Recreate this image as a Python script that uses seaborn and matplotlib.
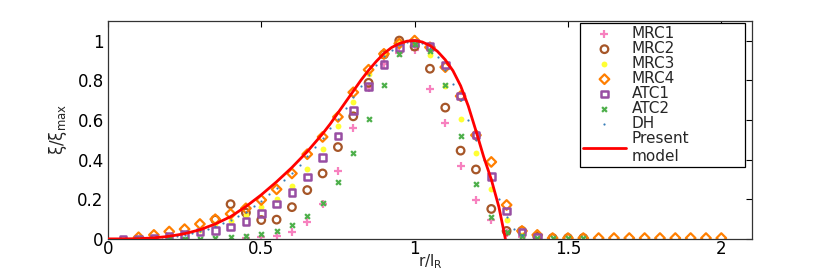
import matplotlib
matplotlib.use('Agg')
import matplotlib.pyplot as plt
import seaborn as sns

sns.set_theme(style="white")
plt.rcParams['font.family'] = ['DejaVu Sans']
plt.rcParams['mathtext.default'] = 'regular'

# MRC1
mrc1_r = [0.45, 0.5, 0.55, 0.6, 0.65, 0.7, 0.75, 0.8, 0.85, 0.9, 0.95, 1.0,
          1.05, 1.1, 1.15, 1.2, 1.25, 1.3, 1.35]
mrc1_y = [0.003, 0.008, 0.012, 0.033, 0.083, 0.175, 0.342, 0.558, 0.76, 0.88, 0.935, 0.95,
          0.754, 0.586, 0.368, 0.196, 0.097, 0.03, 0.008]

# MRC2
mrc2_r = [0.35, 0.4, 0.45, 0.5, 0.55, 0.6, 0.65, 0.7, 0.75, 0.8, 0.85, 0.9, 0.95,
          1.0, 1.05, 1.1, 1.15, 1.2, 1.25, 1.3, 1.35, 1.4, 1.45, 1.5, 1.55]
mrc2_y = [0.097, 0.175, 0.132, 0.095, 0.097, 0.16, 0.246, 0.33, 0.463, 0.618, 0.787, 0.93, 1.0,
          0.97, 0.858, 0.662, 0.445, 0.35, 0.151, 0.04, 0.04, 0.012, 0.004, 0.004, 0.004]

# MRC3
mrc3_r = [0.3, 0.35, 0.4, 0.45, 0.5, 0.55, 0.6, 0.65, 0.7, 0.75, 0.8, 0.85, 0.9,
          0.95, 1.0, 1.05, 1.1, 1.15, 1.2, 1.25, 1.3, 1.35]
mrc3_y = [0.045, 0.075, 0.092, 0.12, 0.159, 0.2, 0.267, 0.352, 0.452, 0.568, 0.69, 0.829, 0.925,
          0.986, 0.985, 0.927, 0.77, 0.605, 0.434, 0.25, 0.095, 0.02]

# MRC4
mrc4_r = [0.1, 0.15, 0.2, 0.25, 0.3, 0.35, 0.4, 0.45, 0.5, 0.55, 0.6, 0.65, 0.7, 0.75,
          0.8, 0.85, 0.9, 0.95, 1.0, 1.05, 1.1, 1.15, 1.2, 1.25, 1.3, 1.35, 1.4,
          1.45, 1.5, 1.55, 1.6, 1.65, 1.7, 1.75, 1.8, 1.85, 1.9, 1.95, 2.0]
mrc4_y = [0.008, 0.02, 0.037, 0.049, 0.075, 0.099, 0.126, 0.154, 0.196, 0.25, 0.33, 0.427, 0.514, 0.615,
          0.739, 0.853, 0.933, 0.985, 1.0, 0.966, 0.866, 0.72, 0.523, 0.388, 0.171, 0.04, 0.02,
          0.004, 0.004, 0.004, 0.004, 0.004, 0.004, 0.004, 0.004, 0.004, 0.004, 0.004, 0.004]

# ATC1
atc1_r = [0.05, 0.1, 0.15, 0.2, 0.25, 0.3, 0.35, 0.4, 0.45, 0.5, 0.55, 0.6, 0.65, 0.7,
          0.75, 0.8, 0.85, 0.9, 0.95, 1.0, 1.05, 1.1, 1.15, 1.2, 1.25, 1.3, 1.35, 1.4]
atc1_y = [0.0, 0.0, 0.004, 0.013, 0.022, 0.035, 0.042, 0.059, 0.088, 0.127, 0.175, 0.235, 0.313, 0.41,
          0.519, 0.648, 0.769, 0.879, 0.966, 0.988, 0.971, 0.878, 0.72, 0.523, 0.315, 0.141, 0.034, 0.008]

# ATC2
atc2_r = [0.1, 0.15, 0.2, 0.25, 0.3, 0.35, 0.4, 0.45, 0.5, 0.55, 0.6, 0.65, 0.7, 0.75,
          0.8, 0.85, 0.9, 0.95, 1.0, 1.05, 1.1, 1.15, 1.2, 1.25, 1.3, 1.35, 1.4,
          1.45, 1.5, 1.55]
atc2_y = [0.0, 0.0, 0.0, 0.0, 0.0, 0.002, 0.008, 0.012, 0.026, 0.04, 0.072, 0.117, 0.179, 0.288,
          0.434, 0.603, 0.778, 0.933, 0.983, 0.948, 0.777, 0.519, 0.276, 0.112, 0.037, 0.012, 0.004,
          0.004, 0.004, 0.004]

# DH
dh_r = [0.1, 0.125, 0.15, 0.175, 0.2, 0.225, 0.25, 0.275, 0.3, 0.325, 0.35, 0.375, 0.4,
        0.425, 0.45, 0.475, 0.5, 0.525, 0.55, 0.575, 0.6, 0.625, 0.65, 0.675, 0.7,
        0.725, 0.75, 0.775, 0.8, 0.825, 0.85, 0.875, 0.9, 0.925, 0.95, 0.975, 1.0,
        1.025, 1.05, 1.075, 1.1, 1.125, 1.15, 1.175, 1.2, 1.225, 1.25, 1.275, 1.3,
        1.325, 1.35]
dh_y = [0.0, 0.002, 0.004, 0.007, 0.011, 0.016, 0.022, 0.03, 0.039, 0.05, 0.063, 0.078, 0.095,
        0.115, 0.138, 0.164, 0.193, 0.224, 0.258, 0.295, 0.334, 0.375, 0.418, 0.463, 0.51,
        0.558, 0.607, 0.66, 0.715, 0.77, 0.825, 0.875, 0.92, 0.955, 0.98, 0.995, 1.0,
        0.99, 0.965, 0.915, 0.85, 0.78, 0.7, 0.6, 0.5, 0.4, 0.3, 0.2, 0.11,
        0.05, 0.02]

# Present model
model_r = [0.0, 0.05, 0.1, 0.15, 0.2, 0.25, 0.3, 0.35, 0.4, 0.45, 0.5, 0.55, 0.6, 0.65,
           0.7, 0.725, 0.75, 0.775, 0.8, 0.825, 0.85, 0.875, 0.9, 0.925, 0.95, 0.975, 1.0,
           1.025, 1.05, 1.075, 1.1, 1.125, 1.15, 1.175, 1.2, 1.225, 1.25, 1.275, 1.296]
model_y = [0.0, 0.0, 0.001, 0.005, 0.013, 0.026, 0.046, 0.075, 0.112, 0.163, 0.222, 0.288, 0.36, 0.44,
           0.53, 0.58, 0.635, 0.69, 0.745, 0.8, 0.85, 0.895, 0.935, 0.965, 0.985, 0.997, 1.0,
           0.993, 0.975, 0.945, 0.903, 0.848, 0.772, 0.67, 0.545, 0.415, 0.3, 0.16, 0.0]

pal = sns.color_palette("Set1")
red, blue, green, purple, orange, yellow, brown, pink = pal[:8]

fig = plt.figure(figsize=(8.3, 2.73), dpi=100)
ax = fig.add_axes([0.130, 0.125, 0.776, 0.799])

sns.scatterplot(x=mrc1_r, y=mrc1_y, marker='+', color=pink, s=34, linewidth=1.6, label='MRC1', ax=ax)
sns.scatterplot(x=mrc2_r, y=mrc2_y, marker='o', facecolor='none', edgecolor=brown, s=30, linewidth=1.6,
                label='MRC2', ax=ax)
sns.scatterplot(x=mrc3_r, y=mrc3_y, marker='o', color=yellow, edgecolor=yellow, s=18, linewidth=0,
                label='MRC3', ax=ax)
sns.scatterplot(x=mrc4_r, y=mrc4_y, marker='D', facecolor='none', edgecolor=orange, s=24, linewidth=1.6,
                label='MRC4', ax=ax)
sns.scatterplot(x=atc1_r, y=atc1_y, marker='s', facecolor='none', edgecolor=purple, s=22, linewidth=1.8,
                label='ATC1', ax=ax)
sns.scatterplot(x=atc2_r, y=atc2_y, marker='x', color=green, s=12, linewidth=1.6, label='ATC2', ax=ax)
sns.scatterplot(x=dh_r, y=dh_y, marker='.', color=blue, edgecolor=blue, s=10, linewidth=0,
                label='DH', ax=ax)
sns.lineplot(x=model_r, y=model_y, color='red', linewidth=2, label='Present\nmodel', ax=ax, zorder=5)

ax.set_xlim(0, 2.1)
ax.set_ylim(0, 1.1)
ax.set_xticks([0, 0.5, 1, 1.5, 2])
ax.set_xticklabels(['0', '0.5', '1', '1.5', '2'])
ax.set_yticks([0, 0.2, 0.4, 0.6, 0.8, 1])
ax.set_yticklabels(['0', '0.2', '0.4', '0.6', '0.8', '1'])
ax.tick_params(direction='in', top=True, right=True, length=4, width=0.8, colors='black',
               labelsize=12, pad=3)
ax.tick_params(axis='x', pad=1)
for sp in ax.spines.values():
    sp.set_color('0.2')
    sp.set_linewidth(0.9)

ax.set_xlabel(r'$r/l_R$', fontsize=11, labelpad=-4)
ax.set_ylabel(r'$\xi/\xi_{max}$', fontsize=12, labelpad=6)

leg = ax.legend(loc='upper right', bbox_to_anchor=(0.733, 0.344, 0.256, 0.645), mode='expand',
                fontsize=11, frameon=True, fancybox=False, framealpha=1, edgecolor='black',
                borderpad=0.2, labelspacing=0.0, handlelength=2.8, handletextpad=0.4,
                scatterpoints=1, borderaxespad=0)
leg.get_frame().set_linewidth(0.9)

plt.savefig('out.png', dpi=100)
plt.close()
